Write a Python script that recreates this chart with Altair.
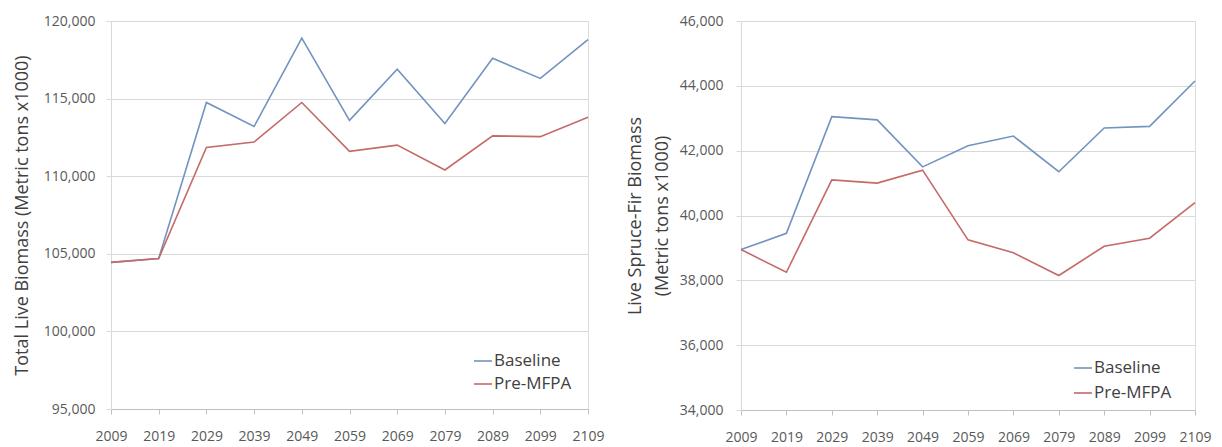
import altair as alt
import pandas as pd

years = [2009, 2019, 2029, 2039, 2049, 2059, 2069, 2079, 2089, 2099, 2109]
series_names = ["Baseline", "Pre-MFPA"]

total_baseline = [104450, 104700, 114750, 113200, 118900, 113600, 116900, 113400, 117600, 116300, 118800]
total_premfpa = [104450, 104700, 111850, 112200, 114750, 111600, 112000, 110400, 112600, 112550, 113800]

spruce_baseline = [38950, 39450, 43050, 42950, 41500, 42150, 42450, 41350, 42700, 42750, 44150]
spruce_premfpa = [38950, 38250, 41100, 41000, 41400, 39250, 38850, 38150, 39050, 39300, 40400]

colors = ["#7393c0", "#c46a68"]
font = "Open Sans"


def frame(b, p):
    rows = []
    for y, v in zip(years, b):
        rows.append({"Year": y, "Value": v, "Series": series_names[0]})
    for y, v in zip(years, p):
        rows.append({"Year": y, "Value": v, "Series": series_names[1]})
    return pd.DataFrame(rows)


def panel(df, domain, step, title, w, h, lx, ly, rowpad, lpad, tpad):
    ticks = list(range(domain[0], domain[1] + 1, step))
    return alt.Chart(df).mark_line(strokeWidth=1.6).encode(
        x=alt.X("Year:Q",
                scale=alt.Scale(domain=[2009, 2109], nice=False, zero=False),
                axis=alt.Axis(values=years, format="d", title=None, grid=False,
                              labelPadding=15, tickSize=5, domainColor="#bfbfbf",
                              tickColor="#bfbfbf", labelFontSize=14, labelColor="#595959",
                              labelFont=font, labelOverlap=False, labelFlush=False)),
        y=alt.Y("Value:Q",
                scale=alt.Scale(domain=domain, nice=False, zero=False),
                axis=alt.Axis(values=ticks, format=",.0f", title=title, grid=True,
                              gridColor="#d9d9d9", domainColor="#d9d9d9",
                              tickColor="#d9d9d9", tickSize=5, labelFontSize=14,
                              labelColor="#595959", labelFont=font, labelPadding=lpad,
                              titleFontSize=18, titleFont=font, titleFontWeight="normal",
                              titleColor="#404040", titlePadding=tpad, titleLineHeight=27)),
        color=alt.Color("Series:N",
                        scale=alt.Scale(domain=series_names, range=colors),
                        legend=alt.Legend(title=None, orient="none", legendX=lx, legendY=ly,
                                          symbolType="stroke", symbolSize=324,
                                          symbolStrokeWidth=1.6, labelFontSize=17,
                                          labelFont=font, labelColor="#404040",
                                          rowPadding=rowpad, labelOffset=1, padding=0)),
    ).properties(width=w, height=h)


left = panel(frame(total_baseline, total_premfpa), [95000, 120000], 5000,
             "Total Live Biomass (Metric tons x1000)", 477, 388, 362, 330, 5, 11, 12)
right = panel(frame(spruce_baseline, spruce_premfpa), [34000, 46000], 2000,
              ["Live Spruce-Fir Biomass", "(Metric tons x1000)"], 454, 389, 332, 337, 7, 13, 8)

chart = alt.hconcat(left, right, spacing=20).resolve_scale(color="independent").resolve_legend(
    color="independent").properties(
    padding={"left": 4, "top": 5, "right": 0, "bottom": 0}
).configure_view(stroke=None).configure(background="white")

chart.save("out.html", embed_options={"renderer": "svg", "actions": False})
